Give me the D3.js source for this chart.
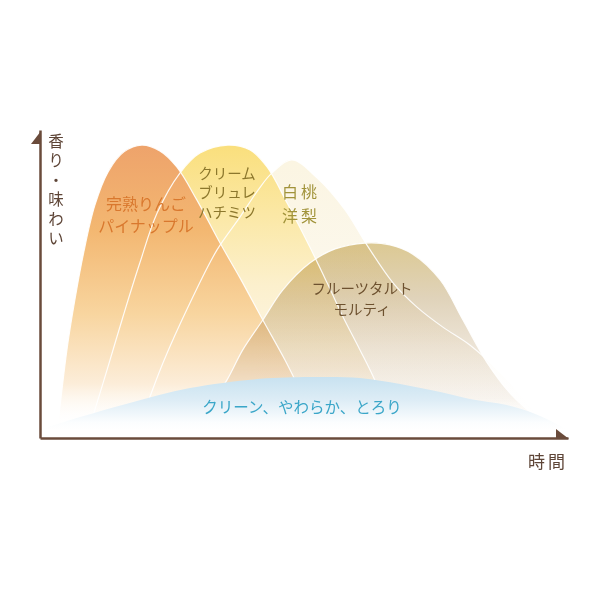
<!DOCTYPE html>
<html>
<head>
<meta charset="utf-8">
<script src="https://cdn.jsdelivr.net/npm/d3@7"></script>
<style>
body { margin: 0; background: #fff; }
text { font-family: "Noto Sans CJK JP", sans-serif; }
</style>
</head>
<body>
<div id="chart-area"></div>
<script>

let width = 600,
height = 600;

// data: time (0-100) and flavour level (0-100)
let appleT = [3.4, 5.1, 6.6, 8.3, 10.4, 12.9, 15.9, 19.3, 22.7, 25.9, 29.7, 34.1, 37.9, 42.2, 46.4, 50.2, 52.7];
let appleV = [4.2, 28.6, 44.8, 60.4, 75.6, 86.4, 92.9, 95.1, 93.2, 88.0, 77.3, 63.3, 51.9, 38.3, 25.3, 12.3, 4.2];

let cremeT = [9.5, 12.7, 15.7, 18.9, 22.2, 26.5, 30.3, 35.6, 39.8, 43.0, 46.8, 51.1, 54.4, 57.4, 60.6, 63.4, 66.7];
let cremeV = [4.2, 22.1, 39.3, 56.8, 73.1, 86.0, 92.5, 95.1, 93.5, 88.0, 76.3, 62.0, 50.3, 39.3, 28.6, 18.8, 4.2];

let peachT = [18.9, 23.3, 28.4, 33.5, 37.9, 41.3, 43.9, 47.7, 52.5, 57.8, 61.9, 66.9, 71.4, 76.3, 81.4, 87.1, 91.9, 95.6];
let peachV = [4.2, 24.4, 43.8, 61.0, 71.8, 80.5, 86.0, 90.3, 84.4, 74.0, 62.7, 50.3, 42.5, 36.0, 30.2, 21.4, 12.3, 4.2];

let tartT = [29.4, 32.2, 35.4, 38.4, 42.2, 46.0, 51.1, 55.9, 61.6, 66.3, 70.6, 75.8, 80.1, 84.7, 89.0, 94.1, 97.5];
let tartV = [3.2, 10.7, 18.8, 28.6, 38.3, 48.1, 56.8, 61.4, 63.3, 62.7, 59.7, 51.3, 38.3, 24.4, 14.6, 6.8, 3.2];

let cleanT = [0.9, 7.6, 17.0, 28.4, 41.7, 51.1, 60.6, 68.2, 75.8, 81.4, 88.4, 93.8, 97.9, 100];
let cleanV = [3.2, 6.8, 11.4, 16.2, 19.2, 19.8, 19.5, 17.5, 14.9, 12.7, 10.7, 7.8, 4.5, 2.6];

let appleLabel = ["完熟りんご", "パイナップル"];
let cremeLabel = ["クリーム", "ブリュレ", "ハチミツ"];
let peachLabel = ["白桃", "洋梨"];
let tartLabel = ["フルーツタルト", "モルティ"];
let cleanLabel = ["クリーン、やわらか、とろり"];
let yTitle = "香り・味わい";
let xTitle = "時間";


let svg = d3.select("#chart-area").append("svg")
.attr("width", width)
.attr("height", height);

let x = d3.scaleLinear().domain([0, 100]).range([40, 568]);
let y = d3.scaleLinear().domain([0, 100]).range([438, 130]);

let zip = (ts, vs) => ts.map((t, i) => [t, vs[i]]);

let curve = d3.curveCatmullRom.alpha(0.5);

let area = d3.area()
	.x(d => x(d[0]))
	.y0(y(0))
	.y1(d => y(d[1]))
	.curve(curve);

let line = d3.line()
	.x(d => x(d[0]))
	.y(d => y(d[1]))
	.curve(curve);

// hump styles, back to front
let humps = [
	{id: "peach", pts: zip(peachT, peachV), stops: [[0, "#fbf5e2", 1], [0.5, "#fcf8ee", 1], [1, "#ffffff", 0]]},
	{id: "creme", pts: zip(cremeT, cremeV), stops: [[0, "#fadf7c", 1], [0.25, "#fbe8a6", 1], [0.5, "#fcf0cd", 1], [0.8, "#fdf7ea", 1], [1, "#ffffff", 0]]},
	{id: "apple", pts: zip(appleT, appleV), stops: [[0, "#eea36b", 1], [0.3, "#f3b771", 1], [0.6, "#f8d59f", 1], [0.85, "#fcedd9", 1], [1, "#ffffff", 0]]},
	{id: "tart", pts: zip(tartT, tartV), stops: [[0, "#dcc993", 1], [0.3, "#e0d3ba", 1], [0.6, "#eee6da", 1], [0.85, "#f8f4ef", 1], [1, "#ffffff", 0]], blend: "multiply"}
];

let defs = svg.append("defs");

function addGrad(id, top, bottom, stops) {
	let g = defs.append("linearGradient")
		.attr("id", "g-" + id)
		.attr("gradientUnits", "userSpaceOnUse")
		.attr("x1", 0).attr("x2", 0)
		.attr("y1", top).attr("y2", bottom);
	g.selectAll("stop")
		.data(stops)
		.enter().append("stop")
		.attr("offset", d => d[0])
		.attr("stop-color", d => d[1])
		.attr("stop-opacity", d => d[2]);
}

humps.forEach(h => {
	let top = y(d3.max(h.pts, d => d[1]));
	addGrad(h.id, top, 426, h.stops);
});

svg.selectAll(".hump")
	.data(humps)
	.enter().append("path")
	.attr("class", "hump")
	.attr("d", d => area(d.pts))
	.attr("fill", d => "url(#g-" + d.id + ")")
	.style("mix-blend-mode", d => d.blend || "normal");

// thin white edges of every hump
svg.selectAll(".edge")
	.data(humps)
	.enter().append("path")
	.attr("class", "edge")
	.attr("d", d => line(d.pts))
	.attr("fill", "none")
	.attr("stroke", "#fff")
	.attr("stroke-width", 1.2)
	.attr("stroke-opacity", 0.9);

// blue base
let cleanPts = zip(cleanT, cleanV);
addGrad("clean", y(d3.max(cleanV)), 430, [[0, "#c8e2f0", 1], [0.45, "#deedf6", 1], [0.85, "#fbfdfe", 1], [1, "#ffffff", 1]]);
svg.append("path")
	.attr("d", area(cleanPts))
	.attr("fill", "url(#g-clean)");

// labels
let labels = [
	{lines: appleLabel, cx: 146, cy: 203, dy: 22, size: 16, color: "#d9782e"},
	{lines: cremeLabel, cx: 227, cy: 172, dy: 19.5, size: 14.5, color: "#8c772c"},
	{lines: peachLabel, cx: 301, cy: 191, dy: 24, size: 16, color: "#a1933a", spacing: 3},
	{lines: tartLabel, cx: 362, cy: 287, dy: 21, size: 14.5, color: "#6d512f"},
	{lines: cleanLabel, cx: 302, cy: 406, dy: 0, size: 15.5, color: "#3aa6c8"}
];

labels.forEach(l => {
	svg.selectAll(null)
		.data(l.lines)
		.enter().append("text")
		.attr("x", l.cx)
		.attr("y", (d, i) => l.cy + i * l.dy)
		.attr("text-anchor", "middle")
		.attr("dominant-baseline", "central")
		.attr("font-size", l.size)
		.attr("letter-spacing", l.spacing || 0)
		.attr("fill", l.color)
		.text(d => d);
});

// axes, no ticks
let axisColor = "#6a4b3b";

let yAxis = svg.append("g")
	.attr("transform", "translate(" + x(0) + ",0)")
	.call(d3.axisLeft(y).tickValues([]).tickSizeOuter(0));
let xAxis = svg.append("g")
	.attr("transform", "translate(0," + y(0) + ")")
	.call(d3.axisBottom(x).tickValues([]).tickSizeOuter(0));

svg.selectAll(".domain")
	.attr("stroke", axisColor)
	.attr("stroke-width", 2.5);

// half arrow heads
svg.append("path")
	.attr("d", "M" + (x(0) + 1) + "," + (y(100) + 1) + "L" + (x(0) - 9) + "," + (y(100) + 14) + "L" + (x(0) + 1) + "," + (y(100) + 14) + "Z")
	.attr("fill", axisColor);
svg.append("path")
	.attr("d", "M" + (x(100) + 1) + "," + (y(0) + 1) + "L" + (x(100) - 12) + "," + (y(0) - 9) + "L" + (x(100) - 12) + "," + (y(0) + 1) + "Z")
	.attr("fill", axisColor);

svg.append("text")
	.attr("x", 56)
	.attr("y", 133)
	.style("writing-mode", "vertical-rl")
	.attr("font-size", 15.5)
	.attr("letter-spacing", 4)
	.attr("fill", "#5e4537")
	.text(yTitle);

svg.append("text")
	.attr("x", 548)
	.attr("y", 460)
	.attr("text-anchor", "middle")
	.attr("dominant-baseline", "central")
	.attr("font-size", 17)
	.attr("letter-spacing", 3)
	.attr("fill", "#5e4537")
	.text(xTitle);

</script>
</body>
</html>
